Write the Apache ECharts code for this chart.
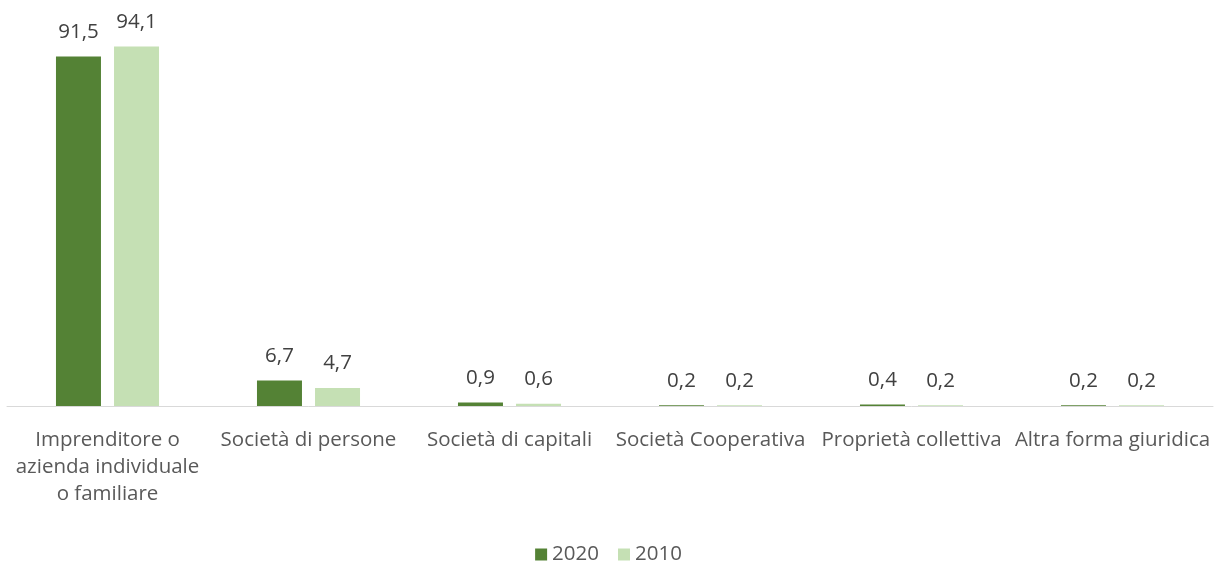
<!DOCTYPE html>
<html>
<head>
<meta charset="utf-8">
<script src="https://cdn.jsdelivr.net/npm/echarts@6/dist/echarts.min.js"></script>
<style>html,body{margin:0;padding:0;background:#fff}#c{width:1217px;height:562px}</style>
</head>
<body>
<div id="c"></div>
<script>
const categories = ["Imprenditore o\nazienda individuale\no familiare", "Società di persone", "Società di capitali", "Società Cooperativa", "Proprietà collettiva", "Altra forma giuridica"];
const series2020 = [91.5, 6.7, 0.9, 0.2, 0.4, 0.2];
const series2010 = [94.1, 4.7, 0.6, 0.2, 0.2, 0.2];
const FONT = "Open Sans";
const chart = echarts.init(document.getElementById('c'));
const lbl = {
  show: true, position: 'top', distance: 14,
  color: '#404040', fontFamily: FONT, fontSize: 20.5,
  formatter: p => String(p.value).replace('.', ',')
};
chart.setOption({
  animation: false,
  grid: {left: 7, right: 4, top: 24, bottom: 156, containLabel: false},
  legend: {
    bottom: -8, left: 'center', itemWidth: 12, itemHeight: 12, itemGap: 19,
    icon: 'rect',
    textStyle: {color: '#595959', fontFamily: FONT, fontSize: 20.5}
  },
  xAxis: {
    type: 'category', data: categories,
    axisLine: {lineStyle: {color: '#d9d9d9', width: 1}},
    axisTick: {show: false},
    axisLabel: {color: '#595959', fontFamily: FONT, fontSize: 20.5, lineHeight: 27, margin: 21, interval: 0}
  },
  yAxis: {type: 'value', min: 0, max: 100, show: false, splitLine: {show: false}},
  series: [
    {name: '2020', type: 'bar', data: series2020, barWidth: 45, barGap: '29%', itemStyle: {color: '#548235'}, label: lbl},
    {name: '2010', type: 'bar', data: series2010, barWidth: 45, itemStyle: {color: '#C5E0B4'}, label: lbl}
  ]
});
</script>
</body>
</html>
